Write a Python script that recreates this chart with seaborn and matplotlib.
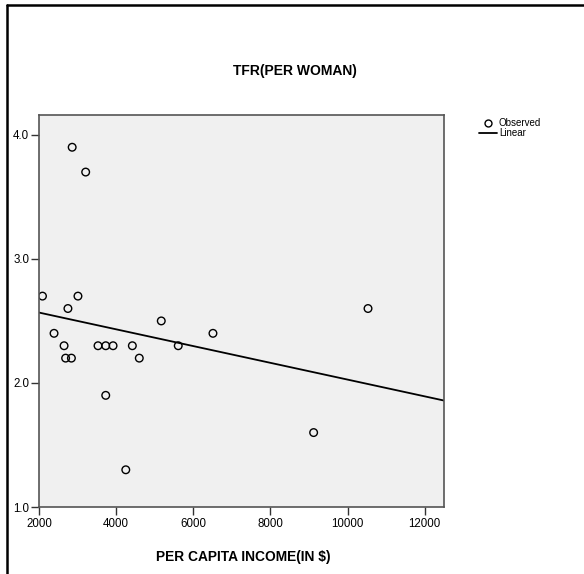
import seaborn as sns
import matplotlib.pyplot as plt
import numpy as np
import pandas as pd
from matplotlib.lines import Line2D

income = [2090, 2860, 3210, 3010, 2750, 2390, 2650, 2690, 2840, 3530,
          3730, 3920, 3730, 4250, 4420, 4600, 5170, 5610, 6510, 9120, 10530]
tfr = [2.7, 3.9, 3.7, 2.7, 2.6, 2.4, 2.3, 2.2, 2.2, 2.3,
       2.3, 2.3, 1.9, 1.3, 2.3, 2.2, 2.5, 2.3, 2.4, 1.6, 2.6]
xticks = [2000, 4000, 6000, 8000, 10000, 12000]
yticks = [1.0, 2.0, 3.0, 4.0]

df = pd.DataFrame({"income": income, "tfr": tfr})

sns.set_style("white")
plt.rcParams['font.family'] = ['Liberation Sans', 'DejaVu Sans']
plt.rcParams['text.color'] = 'black'
plt.rcParams['xtick.color'] = 'black'
plt.rcParams['ytick.color'] = 'black'

fig = plt.figure(figsize=(5.84, 5.74), dpi=100)
ax = fig.add_axes([39 / 584, 1 - 507 / 574, 405 / 584, 392 / 574])
ax.set_facecolor("#f0f0f0")

ax.set_xlim(2000, 12500)
ax.set_ylim(1.0, 4.16)

sns.scatterplot(data=df, x="income", y="tfr", ax=ax, marker="o", s=30,
                facecolor="none", edgecolor="black", linewidth=1.0)
sns.regplot(data=df, x="income", y="tfr", ax=ax, scatter=False, ci=None,
            truncate=False, color="black", line_kws={"linewidth": 1.3})
ax.set_xlim(2000, 12500)
ax.set_ylim(1.0, 4.16)

ax.set_xticks(xticks)
ax.set_yticks(yticks)
ax.set_yticklabels([f"{v:.1f}" for v in yticks])
ax.tick_params(direction="out", length=6, width=1, color="#333333",
               labelsize=8.3, left=True, bottom=True)
ax.tick_params(axis="x", pad=2)
ax.tick_params(axis="y", pad=1)
for sp in ax.spines.values():
    sp.set_color("#555555")
    sp.set_linewidth(1.2)
ax.set_xlabel("")
ax.set_ylabel("")

fig.text(243 / 584, 1 - 557 / 574, "PER CAPITA INCOME(IN $)", ha="center",
         va="center", fontsize=9.9, fontweight="bold")
fig.text(295 / 584, 1 - 71 / 574, "TFR(PER WOMAN)", ha="center",
         va="center", fontsize=10, fontweight="bold")

handles = [Line2D([], [], marker="o", linestyle="none", markerfacecolor="none",
                  markeredgecolor="black", markersize=5),
           Line2D([], [], color="black", linewidth=1.3)]
fig.legend(handles, ["Observed", "Linear"], loc="upper left",
           bbox_to_anchor=(479 / 584, 1 - 118 / 574), frameon=False,
           fontsize=7, handlelength=1.85, handletextpad=0.2,
           labelspacing=0.0, borderpad=0, borderaxespad=0)

# page border (left and top)
fig.add_artist(Line2D([7 / 584, 7 / 584], [0, 1 - 5 / 574], color="black",
                      linewidth=1.8, transform=fig.transFigure))
fig.add_artist(Line2D([7 / 584, 1], [1 - 5 / 574, 1 - 5 / 574], color="black",
                      linewidth=1.8, transform=fig.transFigure))

plt.savefig("out.png", dpi=100)
